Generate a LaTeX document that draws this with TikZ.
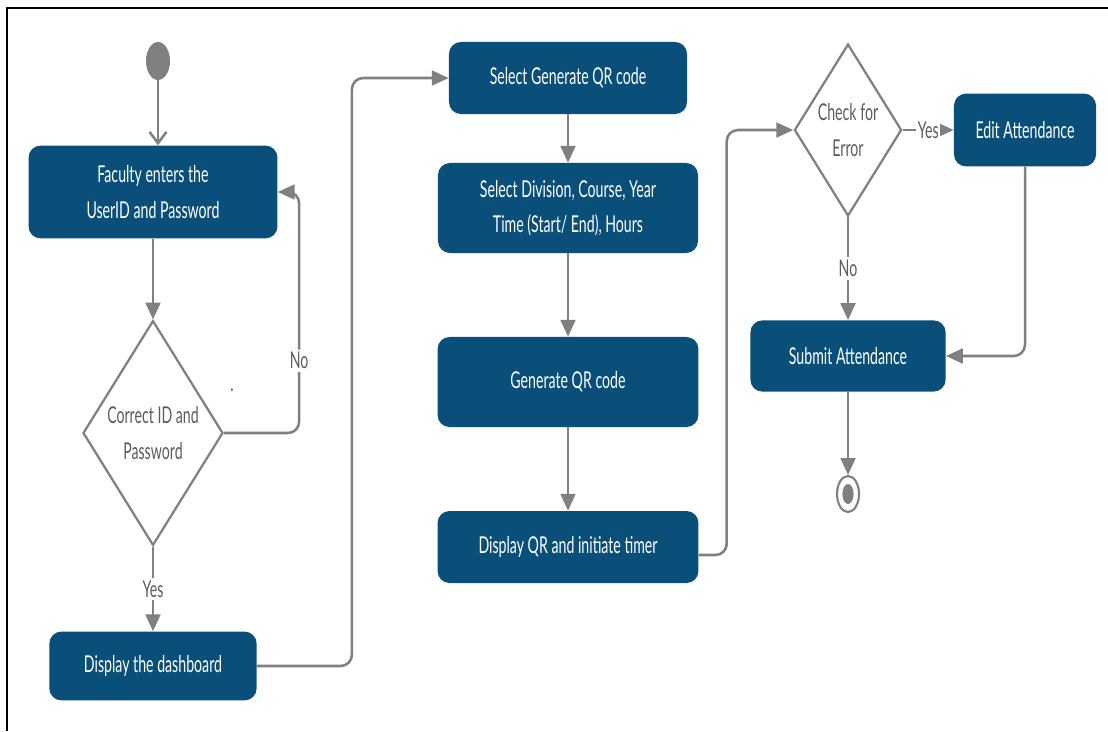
\documentclass[tikz,border=0pt]{standalone}
\usepackage{fontspec}
\setmainfont{Lato}[FakeStretch=0.61]
\usetikzlibrary{arrows.meta,shapes.geometric}
\definecolor{boxblue}{HTML}{0A4F7A}
\definecolor{linegray}{HTML}{808080}
\definecolor{textgray}{HTML}{5C5C5C}
\tikzset{
	stepbox/.style={rectangle, rounded corners=0.3cm, fill=boxblue, text=white, align=center, inner sep=0pt},
	choice/.style={diamond, draw=linegray, line width=1.6pt, aspect=0.62, text=textgray, align=center, inner sep=0pt},
	flow/.style={draw=linegray, line width=1.8pt, -{Triangle[length=12pt,width=10.5pt]}},
	openflow/.style={draw=linegray, line width=1.8pt, -{Straight Barb[length=8pt,width=12pt]}},
	lbl/.style={fill=white, text=textgray, inner sep=2pt},
}
\begin{document}
\begin{tikzpicture}[x=0.025cm, y=-0.025cm, font=\fontsize{16.5}{25}\selectfont]
			\useasboundingbox (0,0) rectangle (1108,731);
			\draw[line width=2pt] (7,731) -- (7,8) -- (1108,8);
			% first column
			\node[ellipse, fill=linegray, minimum width=0.6cm, minimum height=0.95cm, inner sep=0pt] (start) at (158,61) {};
			\node[stepbox, minimum width=6.22cm, minimum height=2.32cm] (login) at (153,192) {Faculty enters the\\UserID and Password};
			\node[choice, minimum width=3.5cm, minimum height=5.62cm] (check) at (153,433) {Correct ID and\\Password};
			\node[text=textgray] (dot) at (232,390) {.};
			\node[stepbox, minimum width=5.18cm, minimum height=1.72cm] (dash) at (153,666) {Display the dashboard};
			% second column
			\node[stepbox, minimum width=5.95cm, minimum height=1.8cm] (selgen) at (568,78) {Select Generate QR code};
			\node[stepbox, minimum width=6.5cm, minimum height=2.25cm] (seldiv) at (568,208) {Select Division, Course, Year\\Time (Start/ End), Hours};
			\node[stepbox, minimum width=6.52cm, minimum height=2.25cm] (genqr) at (568,382) {Generate QR code};
			\node[stepbox, minimum width=6.52cm, minimum height=1.8cm] (dispqr) at (568,547) {Display QR and initiate timer};
			% third column
			\node[choice, minimum width=2.68cm, minimum height=4.3cm] (error) at (848,130) {Check for\\Error};
			\node[stepbox, minimum width=3.55cm, minimum height=1.82cm] (edit) at (1025,130) {Edit Attendance};
			\node[stepbox, minimum width=4.88cm, minimum height=1.78cm] (submit) at (848,356) {Submit Attendance};
			\node[ellipse, draw=linegray, line width=1.5pt, fill=white, minimum width=0.55cm, minimum height=0.9cm, inner sep=0pt] (stop) at (848,494) {};
			\fill[linegray] (stop.center) ellipse [x radius=0.14cm, y radius=0.25cm];

			\draw[openflow] (start) -- (start |- login.north);
			\draw[flow] (login) -- (check);
			\draw[flow, rounded corners=8pt] (check.east) -- ++(75,0) |- node[lbl, pos=0.15] {No} (login.east);
			\draw[flow] (check) -- node[lbl] {Yes} (dash);
			\draw[flow, rounded corners=8pt] (dash.east) -- ++(95,0) |- (selgen.west);
			\draw[flow] (selgen) -- (seldiv);
			\draw[flow] (seldiv) -- (genqr);
			\draw[flow] (genqr) -- (dispqr);
			\draw[flow, rounded corners=8pt] ([yshift=-0.2cm]dispqr.east) -- ++(28,0) |- (error.west);
			\draw[flow] (error) -- node[lbl, inner sep=1pt] {Yes} (edit);
			\draw[flow] (error) -- node[lbl] {No} (submit);
			\draw[flow, rounded corners=8pt] (edit.south) |- (submit.east);
			\draw[flow] (submit) -- (stop);
\end{tikzpicture}
\end{document}
